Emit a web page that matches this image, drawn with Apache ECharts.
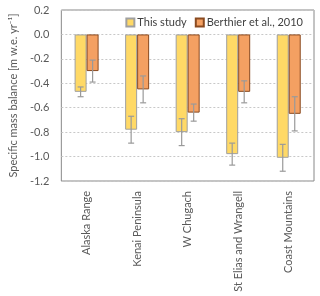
<!DOCTYPE html>
<html><head><meta charset="utf-8">
<script src="https://cdn.jsdelivr.net/npm/echarts@6/dist/echarts.min.js"></script>
<style>html,body{margin:0;padding:0;background:#fff}#c{width:320px;height:296px}</style>
</head><body><div id="c"></div>
<script>
const categories = ['Alaska Range','Kenai Peninsula','W Chugach','St Elias and Wrangell','Coast Mountains'];
const thisStudy = [-0.47,-0.78,-0.80,-0.98,-1.01];
const thisErr = [0.04,0.11,0.11,0.09,0.11];
const berthier = [-0.30,-0.45,-0.64,-0.47,-0.65];
const berthierErr = [0.09,0.11,0.07,0.09,0.14];
const yTicks = [0.2,0.0,-0.2,-0.4,-0.6,-0.8,-1.0,-1.2];

const font = 'Lato';
const chart = echarts.init(document.getElementById('c'));
function errSeries(vals, errs, offset){
  return {
    type:'custom', z:10, silent:true,
    data: vals.map((v,i)=>[i, v-errs[i], v+errs[i]]),
    encode:{x:0,y:[1,2]},
    renderItem:function(params, api){
      const lo = api.coord([api.value(0), api.value(1)]);
      const hi = api.coord([api.value(0), api.value(2)]);
      const x = lo[0] + offset;
      const w = 3;
      const st = {stroke:'#9a9a9a', lineWidth:1.2};
      return {type:'group', children:[
        {type:'line', shape:{x1:x,y1:lo[1],x2:x,y2:hi[1]}, style:st},
        {type:'line', shape:{x1:x-w,y1:lo[1],x2:x+w,y2:lo[1]}, style:st},
        {type:'line', shape:{x1:x-w,y1:hi[1],x2:x+w,y2:hi[1]}, style:st}
      ]};
    }
  };
}
chart.setOption({
  animation:false,
  textStyle:{fontFamily:font},
  legend:{
    top:12, right:12, itemWidth:8, itemHeight:8, itemGap:8, icon:'rect',
    textStyle:{fontFamily:font, fontSize:11, color:'#404040', padding:[0,0,0,-2]},
    data:['This study','Berthier et al., 2010']
  },
  grid:{left:51, right:6, top:10, bottom:115, show:true, borderColor:'#888', borderWidth:1},
  xAxis:{
    type:'category', data:categories,
    axisLine:{show:false}, axisTick:{show:false},
    axisLabel:{rotate:90, fontFamily:font, fontSize:11, color:'#595959', margin:10, interval:0}
  },
  yAxis:{
    type:'value', min:-1.2, max:0.2, interval:0.2,
    name:'Specific mass balance [m w.e. yr\u207B\u00B9]', nameLocation:'middle', nameGap:34,
    nameTextStyle:{fontFamily:font, fontSize:11, color:'#595959'},
    axisLine:{show:false}, axisTick:{show:false},
    axisLabel:{fontFamily:font, fontSize:11, color:'#595959', margin:12,
      formatter:v=>v.toFixed(1)},
    splitLine:{lineStyle:{color:'#c8c8c8', type:[2,2]}}
  },
  series:[
    {name:'This study', type:'bar', data:thisStudy, barWidth:12, barGap:'0%',
      itemStyle:{color:'#FFD966', borderColor:'#a0a0a0', borderWidth:1}},
    {name:'Berthier et al., 2010', type:'bar', data:berthier, barWidth:12, barGap:'0%',
      itemStyle:{color:'#F4A062', borderColor:'#8a4a20', borderWidth:1}},
    errSeries(thisStudy, thisErr, -6),
    errSeries(berthier, berthierErr, 6)
  ]
});
</script></body></html>
